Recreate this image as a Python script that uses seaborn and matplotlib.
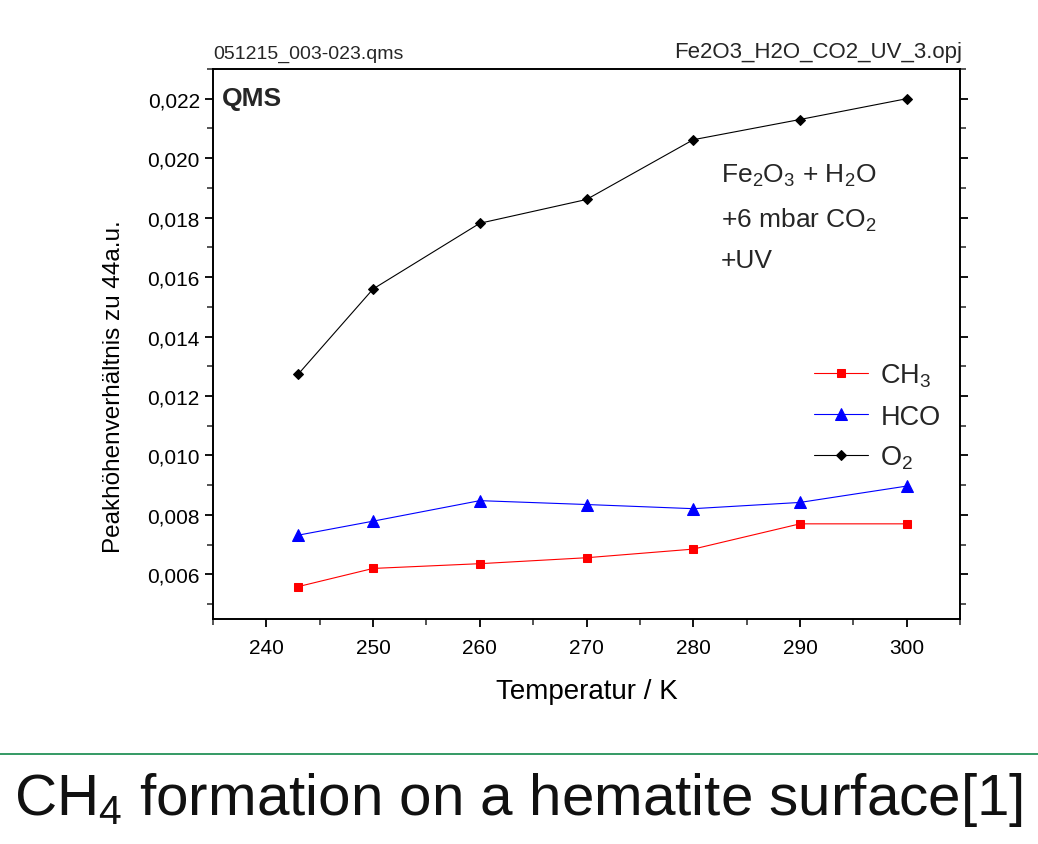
import matplotlib
matplotlib.use("Agg")
import matplotlib.pyplot as plt
import matplotlib.ticker as mticker
from matplotlib import font_manager
import seaborn as sns
import pandas as pd

temperatures = [243, 250, 260, 270, 280, 290, 300]
ch3_values = [0.00559, 0.00620, 0.00636, 0.00656, 0.00685, 0.00770, 0.00770]
hco_values = [0.00732, 0.00779, 0.00848, 0.00835, 0.00821, 0.00842, 0.00897]
o2_values = [0.01274, 0.01560, 0.01781, 0.01861, 0.02062, 0.02130, 0.02200]
series_names = ["CH$_3$", "HCO", "O$_2$"]
x_ticks = [240, 250, 260, 270, 280, 290, 300]
y_ticks = [0.006, 0.008, 0.010, 0.012, 0.014, 0.016, 0.018, 0.020, 0.022]

sns.set_theme(style="ticks")
available = {f.name for f in font_manager.fontManager.ttflist}
main_font = "Liberation Sans" if "Liberation Sans" in available else "DejaVu Sans"
plt.rcParams["font.family"] = [main_font, "DejaVu Sans"]
plt.rcParams["mathtext.fontset"] = "custom"
plt.rcParams["mathtext.rm"] = main_font
plt.rcParams["mathtext.it"] = main_font
plt.rcParams["mathtext.default"] = "regular"

fig = plt.figure(figsize=(10.38, 8.45), dpi=100)
ax = fig.add_axes([0.2052, 0.2663, 0.7197, 0.6509])

df = pd.DataFrame({
    "T": temperatures * 3,
    "v": ch3_values + hco_values + o2_values,
    "s": [series_names[0]] * 7 + [series_names[1]] * 7 + [series_names[2]] * 7,
})
styles = [("#ff0000", "s", 6), ("#0000ff", "^", 8), ("#000000", "D", 5.5)]
for name, (c, m, ms) in zip(series_names, styles):
    sub = df[df["s"] == name]
    sns.lineplot(data=sub, x="T", y="v", ax=ax, color=c, marker=m, markersize=ms,
                 markeredgecolor=c, linewidth=0.8, label=name)

ax.set_xlim(235, 305)
ax.set_ylim(0.0045, 0.023)
ax.set_xticks(x_ticks)
ax.xaxis.set_minor_locator(mticker.MultipleLocator(5))
ax.set_yticks(y_ticks)
ax.yaxis.set_minor_locator(mticker.MultipleLocator(0.001))
ax.yaxis.set_major_formatter(mticker.FuncFormatter(lambda v, p: f"{v:.3f}".replace(".", ",")))
ax.tick_params(axis="both", which="major", length=6, width=1.3, direction="out",
               labelsize=15, colors="black")
ax.tick_params(axis="both", which="minor", length=4, width=1.1, direction="out")
ax.tick_params(axis="x", which="major", pad=8)
ax.tick_params(axis="y", which="both", right=True, left=True)
ax.tick_params(axis="x", which="both", top=False)
for sp in ax.spines.values():
    sp.set_visible(True)
    sp.set_linewidth(1.4)
    sp.set_color("black")

ax.set_xlabel("Temperatur / K", fontsize=20, labelpad=15, color="black")
ax.set_ylabel("Peakhöhenverhältnis zu 44a.u.", fontsize=17.5, color="black")
ax.yaxis.set_label_coords(-0.118, 0.425)

leg = ax.legend(loc="upper left", bbox_to_anchor=(0.79, 0.487), frameon=False,
                fontsize=19.5, handlelength=2.0, labelspacing=0.52, handletextpad=0.45,
                borderaxespad=0)

ax.text(0.0, 1.012, "051215_003-023.qms", transform=ax.transAxes, fontsize=14,
        ha="left", va="bottom")
ax.text(1.003, 1.012, "Fe2O3_H2O_CO2_UV_3.opj", transform=ax.transAxes, fontsize=16,
        ha="right", va="bottom")
ax.text(0.012, 0.947, "QMS", transform=ax.transAxes, fontsize=19, fontweight="bold",
        ha="left", va="center")
ax.text(0.68, 0.7945, "Fe$_2$O$_3$ + H$_2$O", transform=ax.transAxes, fontsize=19,
        ha="left", va="baseline")
ax.text(0.68, 0.7127, "+6 mbar CO$_2$", transform=ax.transAxes, fontsize=19,
        ha="left", va="baseline")
ax.text(0.68, 0.64, "+UV", transform=ax.transAxes, fontsize=19,
        ha="left", va="baseline")

fig.add_artist(plt.Line2D([0, 1], [1 - 755 / 845, 1 - 755 / 845], transform=fig.transFigure,
                          color="#12894a", linewidth=1.2))
fig.text(0.5, 1 - 800 / 845, "CH$_4$ formation on a hematite surface[1]", fontsize=42,
         ha="center", va="center", color="#111111")

fig.savefig("out.png", dpi=100, facecolor="white")
